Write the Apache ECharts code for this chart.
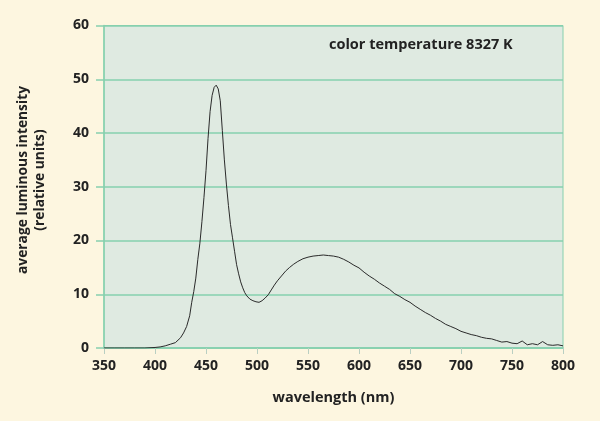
<!DOCTYPE html>
<html>
<head>
<meta charset="utf-8">
<script src="https://cdn.jsdelivr.net/npm/echarts@6/dist/echarts.min.js"></script>
<style>
html,body{margin:0;padding:0;background:#fdf6e0;}
#chart{width:600px;height:421px;}
</style>
</head>
<body>
<div id="chart"></div>
<script>
// wavelength (nm)
const wavelengths = [350,360,370,380,390,400,405,410,415,420,425,428,431,434,436,438,440,442,444,446,448,450,452,454,456,458,460,462,464,466,468,470,472,474,476,478,480,482,484,486,488,490,493,496,499,502,505,508,511,514,517,520,524,528,532,536,540,545,550,555,560,565,570,575,580,585,590,595,600,605,610,615,620,625,630,635,640,645,650,655,660,665,670,675,680,685,690,695,700,705,710,715,720,725,730,735,740,745,750,755,760,765,770,775,780,785,790,795,800];
// average luminous intensity (relative units)
const intensity = [0,0,0,0,0,0.1,0.2,0.4,0.7,1.0,1.9,2.8,4.0,6.0,8.5,10.5,13,16.5,19.5,23.5,28,33,39,44,47,48.5,48.9,48.2,46,40.5,35,30.5,26.5,23,20.5,18,15.5,13.8,12.3,11.2,10.3,9.7,9.1,8.8,8.6,8.5,8.8,9.3,9.9,10.8,11.7,12.5,13.4,14.3,15.0,15.6,16.1,16.6,16.9,17.1,17.2,17.3,17.2,17.1,16.9,16.5,16.0,15.4,14.9,14.1,13.4,12.8,12.1,11.5,10.9,10.1,9.6,9.0,8.5,7.8,7.2,6.6,6.1,5.5,5.0,4.4,4.0,3.6,3.1,2.8,2.5,2.3,2.0,1.8,1.7,1.4,1.1,1.2,0.9,0.8,1.3,0.6,0.8,0.6,1.2,0.6,0.5,0.6,0.4];
const xTicks = [350,400,450,500,550,600,650,700,750,800];
const yTicks = [0,10,20,30,40,50,60];
const annotation = 'color temperature 8327 K';
const xTitle = 'wavelength (nm)';
const yTitle1 = 'average luminous intensity';
const yTitle2 = '(relative units)';

const FONT = 'Open Sans';
const green = '#86d0ae';
const chart = echarts.init(document.getElementById('chart'));
chart.setOption({
  backgroundColor: '#fdf6e0',
  animation: false,
  grid: {left:104, right:37, top:25.5, bottom:73, show:true, backgroundColor:'#dfeae1', borderColor:green, borderWidth:1},
  xAxis: {
    type:'value', min:xTicks[0], max:xTicks[xTicks.length-1], interval:50,
    name: xTitle, nameLocation:'middle', nameGap:42,
    nameTextStyle:{fontFamily:FONT, fontWeight:'bold', fontSize:14.5, color:'#222'},
    axisLine:{show:true, lineStyle:{color:green, width:1.5}},
    axisTick:{show:true, length:6, lineStyle:{color:'#b9cfc2'}},
    axisLabel:{margin:11, fontFamily:FONT, fontWeight:'bold', fontSize:14, color:'#222'},
    splitLine:{show:false}
  },
  yAxis: {
    type:'value', min:yTicks[0], max:yTicks[yTicks.length-1], interval:10,
    axisLine:{show:true, lineStyle:{color:green, width:1.5}},
    axisTick:{show:true, length:8, lineStyle:{color:green, width:1.5}},
    axisLabel:{margin:15, fontFamily:FONT, fontWeight:'bold', fontSize:14, color:'#222'},
    splitLine:{show:true, lineStyle:{color:green, width:1.5}}
  },
  graphic: [
    {type:'text', x:329, y:45, style:{text:annotation, font:'bold 14.5px "Open Sans"', fill:'#222', verticalAlign:'middle'}},
    {type:'text', x:23, y:180, rotation:Math.PI/2, style:{text:yTitle1, font:'bold 13.8px "Open Sans"', fill:'#222', align:'center', verticalAlign:'middle'}},
    {type:'text', x:40, y:180, rotation:Math.PI/2, style:{text:yTitle2, font:'bold 13.8px "Open Sans"', fill:'#222', align:'center', verticalAlign:'middle'}}
  ],
  series: [{
    type:'line', showSymbol:false, smooth:false,
    data: wavelengths.map((w,i)=>[w, intensity[i]]),
    lineStyle:{color:'#2a2a2a', width:1}
  }]
});
</script>
</body>
</html>
